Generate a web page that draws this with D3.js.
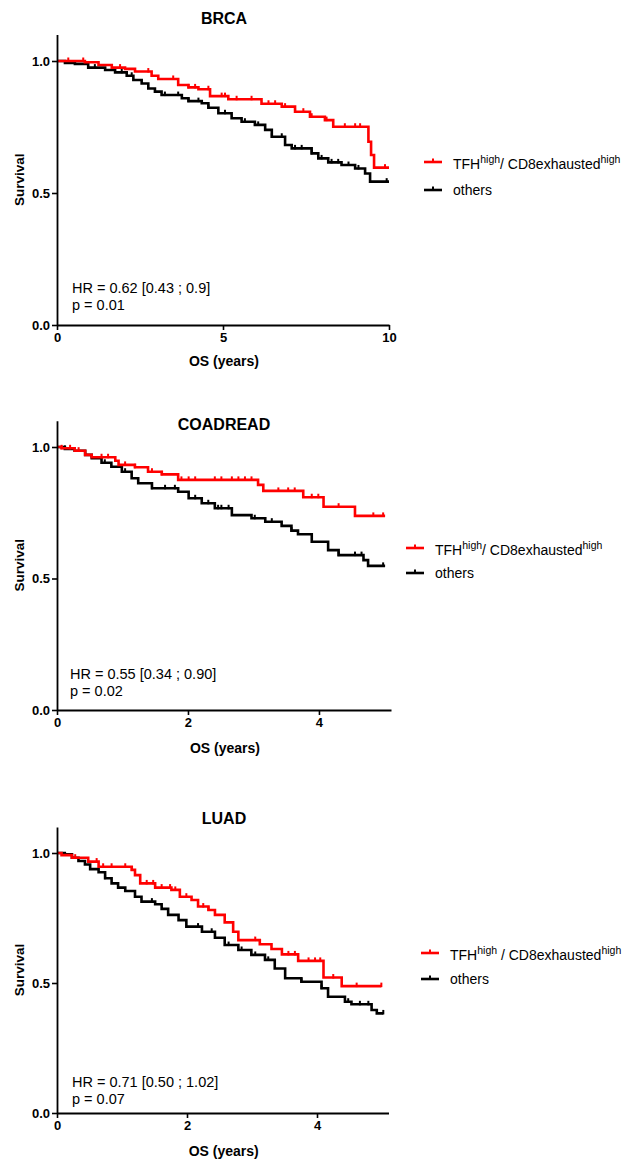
<!DOCTYPE html>
<html>
<head>
<meta charset="utf-8">
<script src="https://cdn.jsdelivr.net/npm/d3@7"></script>
<style>
  html, body { margin: 0; padding: 0; background: #fff; }
  svg { display: block; font-family: "Liberation Sans", Arial, Helvetica, sans-serif; }
</style>
</head>
<body>
<svg id="chart" width="625" height="1160"></svg>
<script>
// ---------------- DATA ----------------
const panelNames = ["BRCA", "COADREAD", "LUAD"];
const seriesNames = ["TFH", "others"];
const hrTexts = ["HR = 0.62 [0.43 ; 0.9]", "HR = 0.55 [0.34 ; 0.90]", "HR = 0.71 [0.50 ; 1.02]"];
const pTexts = ["p = 0.01", "p = 0.02", "p = 0.07"];
const xTicksBRCA = [0, 5, 10];
const xTicksShort = [0, 2, 4];
const yTicks = [0, 0.5, 1.0];
const xMaxes = [10, 5.1, 5.1];

// BRCA
const brcaHighT = [0, 0.84, 1.25, 1.65, 2.05, 2.35, 2.85, 3.05, 3.65, 3.96, 4.26, 4.61, 5.16, 6.16, 6.77, 7.17, 7.62, 8.07, 8.32, 9.38, 9.46, 9.55, 10.0];
const brcaHighS = [1.0, 0.995, 0.985, 0.975, 0.970, 0.960, 0.944, 0.932, 0.909, 0.900, 0.893, 0.867, 0.855, 0.838, 0.827, 0.808, 0.789, 0.776, 0.751, 0.694, 0.644, 0.596, 0.596];
const brcaHighCens = [0.34, 0.79, 1.90, 2.75, 3.50, 3.96, 4.16, 4.56, 4.96, 5.06, 5.41, 5.86, 6.37, 6.57, 6.87, 7.17, 7.42, 7.67, 8.12, 8.67, 8.98, 9.13, 9.88];
const brcaOthT = [0, 0.24, 0.54, 0.94, 1.45, 1.75, 2.10, 2.30, 2.55, 2.75, 2.95, 3.15, 3.76, 3.96, 4.36, 4.56, 4.86, 5.26, 5.56, 5.96, 6.27, 6.47, 6.87, 7.07, 7.67, 7.87, 8.17, 8.57, 8.98, 9.28, 9.43, 10.0];
const brcaOthS = [1.0, 0.993, 0.989, 0.975, 0.966, 0.957, 0.944, 0.928, 0.915, 0.896, 0.884, 0.871, 0.859, 0.848, 0.840, 0.823, 0.802, 0.783, 0.770, 0.758, 0.739, 0.713, 0.682, 0.669, 0.650, 0.631, 0.616, 0.606, 0.593, 0.574, 0.543, 0.543];
const brcaOthCens = [1.14, 1.95, 2.25, 3.25, 3.65, 3.96, 4.26, 4.56, 5.06, 5.66, 6.06, 6.47, 6.77, 7.17, 7.37, 7.67, 7.97, 8.27, 8.47, 8.78, 9.08, 9.93];

// COADREAD
const coadHighT = [0, 0.07, 0.27, 0.43, 0.53, 0.89, 0.94, 1.19, 1.39, 1.60, 1.85, 3.07, 3.15, 3.76, 4.07, 4.55, 5.01];
const coadHighS = [1.0, 0.995, 0.986, 0.970, 0.961, 0.948, 0.932, 0.923, 0.906, 0.896, 0.875, 0.856, 0.833, 0.809, 0.773, 0.738, 0.738];
const coadHighCens = [0.07, 0.20, 0.33, 0.68, 0.78, 1.04, 1.19, 1.45, 1.60, 1.90, 2.01, 2.11, 2.41, 2.51, 2.67, 2.77, 2.87, 2.97, 3.38, 3.53, 3.63, 3.89, 3.99, 4.30, 4.83, 4.98];
const coadOthT = [0, 0.12, 0.27, 0.43, 0.53, 0.68, 0.83, 0.99, 1.14, 1.24, 1.45, 1.85, 2.01, 2.21, 2.41, 2.67, 2.97, 3.18, 3.43, 3.58, 3.68, 3.89, 4.14, 4.30, 4.68, 4.75, 5.01];
const coadOthS = [1.0, 0.993, 0.986, 0.970, 0.957, 0.940, 0.925, 0.906, 0.881, 0.862, 0.843, 0.830, 0.805, 0.786, 0.767, 0.741, 0.729, 0.716, 0.700, 0.682, 0.668, 0.640, 0.608, 0.589, 0.570, 0.548, 0.548];
const coadOthCens = [0.12, 0.73, 1.04, 1.45, 1.65, 1.80, 2.11, 2.31, 2.46, 2.51, 2.62, 3.02, 3.28, 3.58, 4.30, 4.55, 4.65, 4.98];

// LUAD
const luadHighT = [0, 0.07, 0.23, 0.48, 0.64, 1.15, 1.20, 1.28, 1.51, 1.76, 1.89, 2.07, 2.17, 2.33, 2.43, 2.58, 2.71, 2.79, 3.12, 3.30, 3.46, 3.71, 4.10, 4.38, 4.99];
const luadHighS = [1.0, 0.992, 0.982, 0.967, 0.947, 0.935, 0.915, 0.883, 0.867, 0.858, 0.832, 0.819, 0.794, 0.781, 0.762, 0.733, 0.697, 0.665, 0.649, 0.631, 0.610, 0.585, 0.521, 0.488, 0.488];
const luadHighCens = [0.28, 0.61, 0.71, 0.84, 1.05, 1.15, 1.38, 1.48, 1.61, 1.74, 1.82, 1.99, 2.25, 2.33, 3.05, 3.56, 3.66, 3.87, 3.97, 4.05, 4.25, 4.61, 4.99];
const luadOthT = [0, 0.12, 0.23, 0.33, 0.43, 0.51, 0.64, 0.74, 0.84, 0.94, 1.05, 1.20, 1.30, 1.51, 1.61, 1.71, 1.87, 1.99, 2.23, 2.43, 2.58, 2.79, 2.99, 3.20, 3.35, 3.51, 3.76, 4.07, 4.17, 4.43, 4.53, 4.84, 4.92, 5.02];
const luadOthS = [1.0, 0.995, 0.982, 0.969, 0.956, 0.938, 0.926, 0.903, 0.883, 0.867, 0.854, 0.832, 0.813, 0.803, 0.785, 0.762, 0.742, 0.717, 0.697, 0.674, 0.646, 0.627, 0.608, 0.589, 0.556, 0.518, 0.505, 0.480, 0.447, 0.428, 0.418, 0.396, 0.383, 0.383];
const luadOthCens = [0.23, 0.74, 1.20, 1.46, 2.17, 2.38, 2.64, 2.84, 3.05, 3.25, 3.76, 4.07, 4.48, 4.66, 4.79, 5.02];

// ---------------- LAYOUT ----------------
const layouts = [
  { x1: 389, y0: 325, y1: 61, titleY: 24, xLabelY: 366, hrX: 72, hrY: 293, pY: 310, legX: 424, legY1: 162, legY2: 190, slash: "/ " },
  { x1: 391, y0: 710, y1: 447, titleY: 430, xLabelY: 753, hrX: 70, hrY: 679, pY: 696, legX: 406, legY1: 548, legY2: 573, slash: "/ " },
  { x1: 388.5, y0: 1113, y1: 853, titleY: 824, xLabelY: 1156, hrX: 72, hrY: 1087, pY: 1104, legX: 421, legY1: 953, legY2: 979, slash: " / " }
];
const curves = [
  [[brcaHighT, brcaHighS, brcaHighCens], [brcaOthT, brcaOthS, brcaOthCens]],
  [[coadHighT, coadHighS, coadHighCens], [coadOthT, coadOthS, coadOthCens]],
  [[luadHighT, luadHighS, luadHighCens], [luadOthT, luadOthS, luadOthCens]]
];
const xTickSets = [xTicksBRCA, xTicksShort, xTicksShort];
const colors = ["#ff0000", "#000000"];

const svg = d3.select("#chart");

function stepValue(T, S, t) {
  let v = S[0];
  for (let i = 0; i < T.length; i++) { if (T[i] <= t + 1e-9) v = S[i]; }
  return v;
}

panelNames.forEach((name, pi) => {
  const L = layouts[pi];
  const x = d3.scaleLinear().domain([0, xMaxes[pi]]).range([57, L.x1]);
  const yUnit = d3.scaleLinear().domain([0, 1]).range([L.y0, L.y1]);
  const y = d3.scaleLinear().domain([0, 1.1]).range([L.y0, yUnit(1.1)]);
  const g = svg.append("g");

  [1, 0].forEach(si => {
    const [T, S, C] = curves[pi][si];
    const pts = T.map((t, i) => [t, S[i]]);
    const line = d3.line().x(d => x(d[0])).y(d => y(d[1])).curve(d3.curveStepAfter);
    g.append("path").attr("d", line(pts)).attr("fill", "none")
      .attr("stroke", colors[si]).attr("stroke-width", 2.6);
    g.selectAll(null).data(C).enter().append("line")
      .attr("x1", d => x(d)).attr("x2", d => x(d))
      .attr("y1", d => y(stepValue(T, S, d)) + 1)
      .attr("y2", d => y(stepValue(T, S, d)) - 3.5)
      .attr("stroke", colors[si]).attr("stroke-width", 2);
  });

  const yAxis = d3.axisLeft(y).tickValues(yTicks).tickFormat(d3.format(".1f")).tickSize(5).tickPadding(2).tickSizeOuter(0);
  const xAxis = d3.axisBottom(x).tickValues(xTickSets[pi]).tickFormat(d3.format("d")).tickSize(5).tickPadding(3).tickSizeOuter(0);
  const ya = g.append("g").attr("transform", "translate(57,0)").call(yAxis);
  const xa = g.append("g").attr("transform", `translate(0,${L.y0})`).call(xAxis);
  [ya, xa].forEach(a => {
    a.select(".domain").attr("stroke", "#000").attr("stroke-width", 1.8);
    a.selectAll(".tick line").attr("stroke", "#000").attr("stroke-width", 1.6);
    a.selectAll(".tick text").attr("fill", "#000").attr("font-size", 13).attr("font-weight", "bold")
      .attr("font-family", "Liberation Sans, Arial, sans-serif");
  });

  g.append("text").attr("x", 224).attr("y", L.titleY).attr("text-anchor", "middle")
    .attr("font-size", 16).attr("font-weight", "bold").text(name);
  g.append("text").attr("x", (57 + L.x1) / 2 + 1).attr("y", L.xLabelY).attr("text-anchor", "middle")
    .attr("font-size", 14).attr("font-weight", "bold").text("OS (years)");
  const yc = (L.y0 + y(1.1)) / 2;
  g.append("text").attr("transform", `translate(24,${yc}) rotate(-90)`).attr("text-anchor", "middle")
    .attr("font-size", 13.5).attr("font-weight", "bold").text("Survival");

  g.append("text").attr("x", L.hrX).attr("y", L.hrY).attr("font-size", 14.5).text(hrTexts[pi]);
  g.append("text").attr("x", L.hrX).attr("y", L.pY).attr("font-size", 14.5).text(pTexts[pi]);

  [L.legY1, L.legY2].forEach((ly, li) => {
    g.append("line").attr("x1", L.legX).attr("x2", L.legX + 18).attr("y1", ly).attr("y2", ly)
      .attr("stroke", colors[li]).attr("stroke-width", 2.6);
    g.append("line").attr("x1", L.legX + 9).attr("x2", L.legX + 9).attr("y1", ly).attr("y2", ly - 3.5)
      .attr("stroke", colors[li]).attr("stroke-width", 2);
  });
  const t1 = g.append("text").attr("x", L.legX + 29).attr("y", L.legY1 + 6.5).attr("font-size", 14);
  t1.append("tspan").text(seriesNames[0]);
  t1.append("tspan").attr("dy", -6).attr("font-size", 10.5).text("high");
  t1.append("tspan").attr("dy", 6).text(L.slash + "CD8exhausted");
  t1.append("tspan").attr("dy", -6).attr("font-size", 10.5).text("high");
  g.append("text").attr("x", L.legX + 29).attr("y", L.legY2 + 4.5).attr("font-size", 14).text(seriesNames[1]);
});
</script>
</body>
</html>
